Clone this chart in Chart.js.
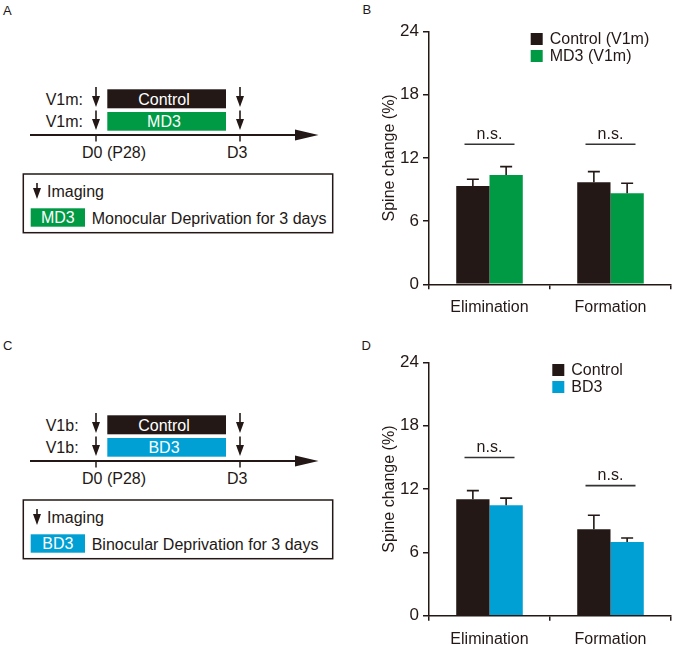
<!DOCTYPE html>
<html><head><meta charset="utf-8">
<script src="https://cdn.jsdelivr.net/npm/chart.js@4"></script>
<style>
html,body{margin:0;padding:0;background:#fff;overflow:hidden;width:675px;height:645px;}
#wrap{position:relative;width:675px;height:645px;}
canvas{position:absolute;}
svg{position:absolute;left:0;top:0;}
</style></head><body>
<div id="wrap">
<svg id="diag" width="675" height="645" xmlns="http://www.w3.org/2000/svg" font-family="'Liberation Sans', Arial, sans-serif"></svg>
<canvas id="cB" width="335" height="320" style="left:340px;top:0px;width:335px;height:320px"></canvas>
<canvas id="cD" width="335" height="314" style="left:340px;top:331px;width:335px;height:314px"></canvas>
</div>
<script>
// ---------- data ----------
const categories = ['Elimination', 'Formation'];
const yTicks = [0, 6, 12, 18, 24];

const seriesNamesB = ['Control (V1m)', 'MD3 (V1m)'];
const controlV1m = [9.33, 9.70];
const md3V1m = [10.38, 8.65];
const controlV1mErr = [0.64, 1.00];
const md3V1mErr = [0.79, 0.95];
const nsLevelB = [13.3, 13.3];

const seriesNamesD = ['Control', 'BD3'];
const controlV1b = [11.04, 8.20];
const bd3V1b = [10.47, 6.99];
const controlV1bErr = [0.82, 1.32];
const bd3V1bErr = [0.67, 0.38];
const nsLevelD = [15.0, 12.33];

const nsLabel = 'n.s.';
const yTitle = 'Spine change (%)';

// ---------- styles ----------
const DARK = '#231815';
const GREEN = '#009944';
const BLUE = '#00a0d4';
const FONT = "'Liberation Sans', Arial, sans-serif";

// ---------- left diagrams (SVG) ----------
const svg = document.getElementById('diag');
const NS = 'http://www.w3.org/2000/svg';
function el(tag, attrs, text) {
  const e = document.createElementNS(NS, tag);
  for (const k in attrs) e.setAttribute(k, attrs[k]);
  if (text !== undefined) e.textContent = text;
  svg.appendChild(e);
  return e;
}
function arrow(x, y0, y1) {
  el('line', {x1: x, y1: y0, x2: x, y2: y1 - 8, stroke: DARK, 'stroke-width': 1.6});
  el('polygon', {points: `${x-4},${y1-11} ${x+4},${y1-11} ${x},${y1}`, fill: DARK});
}
function text(x, y, s, opts) {
  el('text', Object.assign({x: x, y: y, 'font-size': 16, fill: DARK}, opts || {}), s);
}
function panel(dy, letter, letterY, region, label, color, desc) {
  text(3, letterY, letter, {'font-size': 13});
  text(45.7, 104.5 + dy, region + ':');
  text(45.7, 127 + dy, region + ':');
  arrow(96, 87 + dy, 107 + dy);
  arrow(96, 110.5 + dy, 130 + dy);
  arrow(240, 87 + dy, 107 + dy);
  arrow(240, 110.5 + dy, 130 + dy);
  el('rect', {x: 107.3, y: 89.3 + dy, width: 118.7, height: 19, fill: DARK});
  text(164, 104.5 + dy, 'Control', {fill: '#fff', 'text-anchor': 'middle'});
  el('rect', {x: 107.3, y: 112 + dy, width: 118.7, height: 18.7, fill: color});
  text(164, 127 + dy, label, {fill: '#fff', 'text-anchor': 'middle'});
  el('line', {x1: 30, y1: 135 + dy, x2: 298, y2: 135 + dy, stroke: DARK, 'stroke-width': 1.8});
  el('polygon', {points: `295,${129.5+dy} 318.5,${135+dy} 295,${140.5+dy}`, fill: DARK});
  el('line', {x1: 96, y1: 135 + dy, x2: 96, y2: 141.5 + dy, stroke: DARK, 'stroke-width': 1.5});
  el('line', {x1: 240, y1: 135 + dy, x2: 240, y2: 141.5 + dy, stroke: DARK, 'stroke-width': 1.5});
  text(82, 157.5 + dy, 'D0 (P28)');
  text(227, 157.5 + dy, 'D3');
  el('rect', {x: 23.3, y: 174 + dy, width: 309.4, height: 58.7, fill: 'none', stroke: DARK, 'stroke-width': 1.5});
  arrow(37, 183 + dy, 199 + dy);
  text(47, 196.7 + dy, 'Imaging');
  el('rect', {x: 30.7, y: 208.3 + dy, width: 54.3, height: 18.4, fill: color});
  text(57.8, 223.3 + dy, label, {fill: '#fff', 'text-anchor': 'middle'});
  text(91.7, 223.5 + dy, desc);
}
panel(0, 'A', 15, 'V1m', 'MD3', GREEN, 'Monocular Deprivation for 3 days');
panel(326, 'C', 350, 'V1b', 'BD3', BLUE, 'Binocular Deprivation for 3 days');
text(362.5, 13.5, 'B', {'font-size': 13});
text(361.5, 350, 'D', {'font-size': 13});

// ---------- plugins ----------
const errorBarPlugin = {
  id: 'errorBars',
  afterDatasetsDraw(chart, args, opts) {
    const ctx = chart.ctx, y = chart.scales.y;
    ctx.save();
    ctx.strokeStyle = DARK; ctx.lineWidth = 1.6;
    chart.data.datasets.forEach((ds, i) => {
      const meta = chart.getDatasetMeta(i);
      meta.data.forEach((bar, j) => {
        const top = y.getPixelForValue(ds.data[j] + ds.errors[j]);
        ctx.beginPath();
        ctx.moveTo(bar.x, bar.y); ctx.lineTo(bar.x, top);
        ctx.moveTo(bar.x - 6, top); ctx.lineTo(bar.x + 6, top);
        ctx.stroke();
      });
    });
    ctx.restore();
  }
};
const nsPlugin = {
  id: 'nsMarks',
  afterDatasetsDraw(chart, args, opts) {
    const ctx = chart.ctx, x = chart.scales.x, y = chart.scales.y;
    ctx.save();
    ctx.strokeStyle = '#333'; ctx.lineWidth = 1.6;
    ctx.fillStyle = DARK; ctx.font = '16px ' + FONT;
    ctx.textAlign = 'center'; ctx.textBaseline = 'alphabetic';
    opts.levels.forEach((lv, j) => {
      const cx = x.getPixelForValue(j), py = y.getPixelForValue(lv);
      ctx.beginPath(); ctx.moveTo(cx - 25, py); ctx.lineTo(cx + 25, py); ctx.stroke();
      ctx.fillText(opts.label, cx, py - 5.5);
    });
    ctx.restore();
  }
};
const boxLegendPlugin = {
  id: 'boxLegend',
  afterDraw(chart, args, opts) {
    const ctx = chart.ctx, top = chart.chartArea.top;
    ctx.save();
    ctx.font = '16px ' + FONT; ctx.textBaseline = 'middle'; ctx.textAlign = 'left';
    chart.data.datasets.forEach((ds, i) => {
      const cy = top + opts.rows[i];
      ctx.fillStyle = ds.backgroundColor;
      ctx.fillRect(opts.x, cy - 6, 12, 12);
      ctx.fillStyle = DARK;
      ctx.fillText(ds.label, opts.x + 19, cy + 1);
    });
    ctx.restore();
  }
};

function makeChart(id, names, a, b, ea, eb, colorB, ns, legendX, xHeight) {
  return new Chart(document.getElementById(id), {
    type: 'bar',
    data: {
      labels: categories,
      datasets: [
        {label: names[0], data: a, errors: ea, backgroundColor: DARK},
        {label: names[1], data: b, errors: eb, backgroundColor: colorB}
      ]
    },
    options: {
      responsive: false, animation: false, devicePixelRatio: 1,
      layout: {padding: {left: 35.4, top: 31.5, right: 4, bottom: 0}},
      categoryPercentage: 0.55, barPercentage: 1,
      plugins: {
        legend: {display: false}, tooltip: {enabled: false},
        nsMarks: {levels: ns, label: nsLabel},
        boxLegend: {x: legendX, rows: [7.5, 24.5]}
      },
      scales: {
        x: {
          grid: {display: true, drawOnChartArea: false, drawTicks: true, tickLength: 5, color: DARK, lineWidth: 1.5, offset: true},
          border: {display: true, color: DARK, width: 1.5},
          ticks: {font: {family: FONT, size: 16}, color: DARK, padding: 9},
          afterFit: s => { s.height = xHeight; }
        },
        y: {
          min: 0, max: 24,
          afterBuildTicks: s => { s.ticks = yTicks.map(v => ({value: v})); },
          grid: {display: true, drawOnChartArea: false, drawTicks: true, tickLength: 6, color: DARK, lineWidth: 1.5},
          border: {display: true, color: DARK, width: 1.5},
          ticks: {font: {family: FONT, size: 17}, color: DARK, padding: 4},
          title: {display: true, text: yTitle, font: {family: FONT, size: 16}, color: DARK, padding: {top: 5, bottom: 0}},
          afterFit: s => { s.width = 53.6; }
        }
      }
    },
    plugins: [errorBarPlugin, nsPlugin, boxLegendPlugin]
  });
}
makeChart('cB', seriesNamesB, controlV1m, md3V1m, controlV1mErr, md3V1mErr, GREEN, nsLevelB, 190.7, 35.7);
makeChart('cD', seriesNamesD, controlV1b, bd3V1b, controlV1bErr, bd3V1bErr, BLUE, nsLevelD, 212.3, 29.3);
</script>
</body></html>
